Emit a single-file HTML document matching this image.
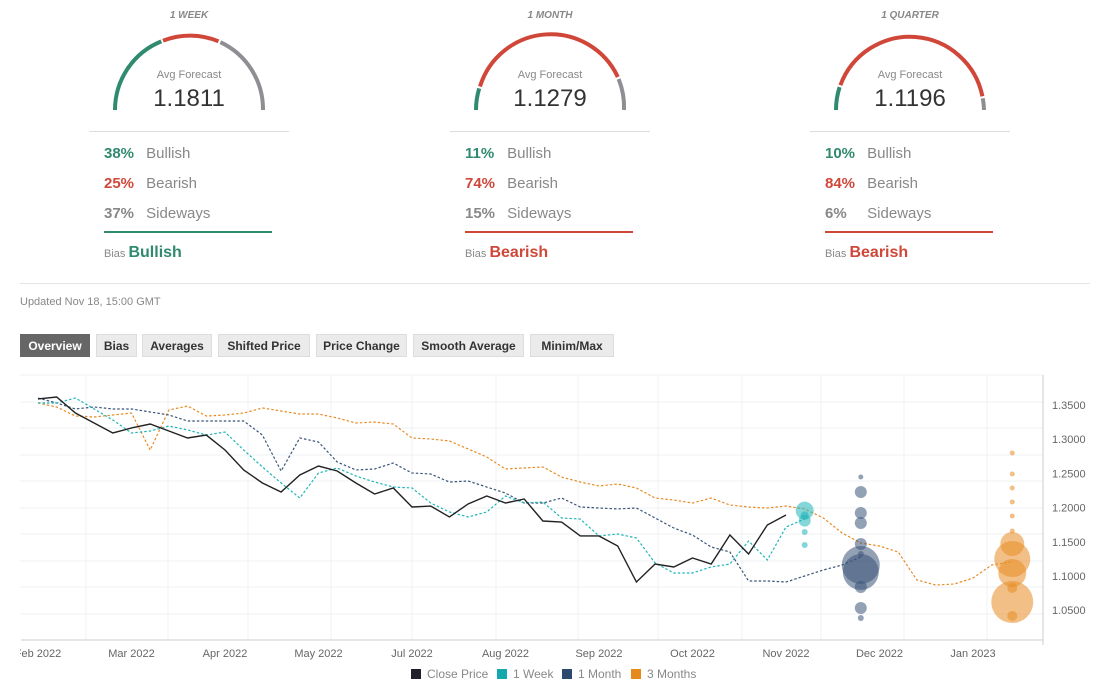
<!DOCTYPE html>
<html><head><meta charset="utf-8">
<style>
body{margin:0;width:1097px;height:700px;background:#fff;font-family:"Liberation Sans",sans-serif;position:relative;overflow:hidden}
.abs{position:absolute}
.col{position:absolute;top:0;width:220px}
.title{position:absolute;top:10px;width:100%;text-align:center;font-size:10px;font-style:italic;font-weight:bold;color:#888}
.avg{position:absolute;top:69px;width:100%;text-align:center;font-size:11px;color:#888}
.val{position:absolute;top:85px;width:100%;text-align:center;font-size:24px;color:#333}
.hr{position:absolute;top:131px;left:10px;width:200px;height:1px;background:#ddd}
.row{position:absolute;left:25px;font-size:15px;color:#888}
.row b{display:inline-block;width:38px}
.ul{position:absolute;top:231px;left:25px;width:168px;height:2px}
.bias{position:absolute;top:244px;left:25px;font-size:11px;color:#888}
.bias span{font-size:16px;font-weight:bold}
.btn{position:absolute;top:334px;height:23px;line-height:23px;background:#ebebeb;border:1px solid #ddd;box-sizing:border-box;font-size:12px;font-weight:bold;color:#333;text-align:center}
</style></head><body>
<div class="col" style="left:79px">
<div class="title">1 WEEK</div>
<svg class="abs" style="left:0;top:0" width="220" height="120">
<path d="M36,110 A74,74 0 0 1 82.3,41.4" stroke="#2f8a6f" stroke-width="4" fill="none"/>
<path d="M84,40.7 A74,74 0 0 1 139.5,41.3" stroke="#d0473a" stroke-width="4" fill="none"/>
<path d="M141.4,42.2 A74,74 0 0 1 184,110" stroke="#8e8e93" stroke-width="4" fill="none"/>
</svg>
<div class="avg">Avg Forecast</div><div class="val">1.1811</div>
<div class="hr"></div>
<div class="row" style="top:145px"><b style="color:#2f8a6f">38%</b> Bullish</div>
<div class="row" style="top:175px"><b style="color:#d0473a">25%</b> Bearish</div>
<div class="row" style="top:205px"><b style="color:#888">37%</b> Sideways</div>
<div class="ul" style="background:#2f8a6f"></div>
<div class="bias">Bias <span style="color:#2f8a6f">Bullish</span></div>
</div>
<div class="col" style="left:440px">
<div class="title">1 MONTH</div>
<svg class="abs" style="left:0;top:0" width="220" height="120">
<path d="M36,110 A74,74 0 0 1 39.2,88.4" stroke="#2f8a6f" stroke-width="4" fill="none"/>
<path d="M40,86.5 A74,74 0 0 1 177.8,77" stroke="#d0473a" stroke-width="4" fill="none"/>
<path d="M178.6,79 A74,74 0 0 1 184,110" stroke="#8e8e93" stroke-width="4" fill="none"/>
</svg>
<div class="avg">Avg Forecast</div><div class="val">1.1279</div>
<div class="hr"></div>
<div class="row" style="top:145px"><b style="color:#2f8a6f">11%</b> Bullish</div>
<div class="row" style="top:175px"><b style="color:#d0473a">74%</b> Bearish</div>
<div class="row" style="top:205px"><b style="color:#888">15%</b> Sideways</div>
<div class="ul" style="background:#d0473a"></div>
<div class="bias">Bias <span style="color:#d0473a">Bearish</span></div>
</div>
<div class="col" style="left:800px">
<div class="title">1 QUARTER</div>
<svg class="abs" style="left:0;top:0" width="220" height="120">
<path d="M36,110 A74,74 0 0 1 39.6,87.1" stroke="#2f8a6f" stroke-width="4" fill="none"/>
<path d="M40.4,85.2 A74,74 0 0 1 182.4,96.3" stroke="#d0473a" stroke-width="4" fill="none"/>
<path d="M182.8,98.3 A74,74 0 0 1 184,110" stroke="#8e8e93" stroke-width="4" fill="none"/>
</svg>
<div class="avg">Avg Forecast</div><div class="val">1.1196</div>
<div class="hr"></div>
<div class="row" style="top:145px"><b style="color:#2f8a6f">10%</b> Bullish</div>
<div class="row" style="top:175px"><b style="color:#d0473a">84%</b> Bearish</div>
<div class="row" style="top:205px"><b style="color:#888">6%</b> Sideways</div>
<div class="ul" style="background:#d0473a"></div>
<div class="bias">Bias <span style="color:#d0473a">Bearish</span></div>
</div>
<div class="abs" style="left:20px;top:283px;width:1070px;height:1px;background:#e5e5e5"></div>
<div class="abs" style="left:20px;top:296px;font-size:11px;color:#888">Updated Nov 18, 15:00 GMT</div>
<div class="btn" style="left:20px;width:70px;background:#666;color:#fff;border-color:#666">Overview</div>
<div class="btn" style="left:96px;width:41px">Bias</div>
<div class="btn" style="left:142px;width:70px">Averages</div>
<div class="btn" style="left:218px;width:92px">Shifted Price</div>
<div class="btn" style="left:316px;width:91px">Price Change</div>
<div class="btn" style="left:413px;width:111px">Smooth Average</div>
<div class="btn" style="left:530px;width:84px">Minim/Max</div>
<svg id="chart" class="abs" style="left:0;top:0" width="1097" height="700">
<defs><clipPath id="xclip"><rect x="20" y="640" width="1077" height="30"/></clipPath></defs>
</svg>
<script>
const closePrice=[1.3588,1.3617,1.3383,1.3237,1.3091,1.3164,1.3222,1.3120,1.3018,1.3061,1.2842,1.2550,1.2360,1.2228,1.2477,1.2608,1.2535,1.2360,1.2199,1.2287,1.2009,1.2023,1.1863,1.2053,1.2170,1.2067,1.2126,1.1804,1.1789,1.1585,1.1585,1.1439,1.0912,1.1175,1.1132,1.1263,1.1175,1.1599,1.1322,1.1746,1.1892];
const week1=[1.3529,1.3529,1.3602,1.3442,1.3281,1.3091,1.3120,1.3193,1.3135,1.3061,1.3105,1.2842,1.2594,1.2360,1.2140,1.2506,1.2579,1.2462,1.2374,1.2301,1.2287,1.2067,1.1936,1.1863,1.1936,1.2170,1.2067,1.2082,1.1848,1.1833,1.1585,1.1614,1.1556,1.1190,1.1044,1.1044,1.1132,1.1175,1.1512,1.1234,1.1716,1.1833];
const month1=[1.3602,1.3529,1.3442,1.3471,1.3442,1.3442,1.3398,1.3354,1.3266,1.3266,1.3266,1.3266,1.3061,1.2535,1.3018,1.2959,1.2667,1.2550,1.2564,1.2652,1.2506,1.2491,1.2374,1.2389,1.2301,1.2213,1.2067,1.2067,1.2140,1.2009,1.1994,1.1980,1.1994,1.1848,1.1702,1.1599,1.1424,1.1351,1.0927,1.0927,1.0912,1.1000,1.1088,1.1161,1.1278];
const months3=[1.3529,1.3471,1.3339,1.3325,1.3354,1.3383,1.2842,1.3427,1.3485,1.3339,1.3354,1.3383,1.3456,1.3412,1.3368,1.3368,1.3310,1.3237,1.3251,1.3222,1.3018,1.3003,1.2974,1.2857,1.2740,1.2564,1.2579,1.2594,1.2447,1.2374,1.2316,1.2345,1.2287,1.2140,1.2111,1.2067,1.2140,1.2038,1.2009,1.1994,1.2023,1.1980,1.1848,1.1629,1.1482,1.1439,1.1351,1.0942,1.0868,1.0883,1.0971,1.1161,1.1205];
const weekBubbleVals=[1.1955,1.1810,1.1886,1.1643,1.1453];
const weekBubbleSizes=[9,6,4,3,3];
const monthBubbleVals=[1.2448,1.2228,1.1921,1.1775,1.1468,1.1322,1.1161,1.1058,1.0839,1.0532,1.0386];
const monthBubbleSizes=[2.5,6,6,6,6,3,19,18,6,6,3];
const q3BubbleVals=[1.2798,1.2491,1.2287,1.2082,1.1877,1.1658,1.1468,1.1249,1.1044,1.0825,1.0620,1.0415];
const q3BubbleSizes=[2.5,2.5,2.5,2.5,2.5,2.5,12,18,14,5,21,5];
const yTicks=[1.35,1.30,1.25,1.20,1.15,1.10,1.05];
const monthLabels=["Feb 2022","Mar 2022","Apr 2022","May 2022","Jul 2022","Aug 2022","Sep 2022","Oct 2022","Nov 2022","Dec 2022","Jan 2023"];
const monthLabelPos=[0,5,10,15,20,25,30,35,40,45,50];
const weekBubbleIdx=41, monthBubbleIdx=44, q3BubbleIdx=52.1;

const X=i=>38+i*18.7;
const Y=v=>576-(v-1.10)*684;
const NS="http://www.w3.org/2000/svg";
const svg=document.getElementById('chart');
function mk(t,a){const e=document.createElementNS(NS,t);for(const k in a)e.setAttribute(k,a[k]);svg.appendChild(e);return e;}
[375,402,428,455,481,508,534,561,587,614].forEach(y=>{const g=mk('line',{x1:20,x2:1043,y1:y,y2:y,stroke:'#eef0f3'});

});
[86,168,248,331,412,496,578,658,742,821,904,987].forEach(x=>{const g=mk('line',{x1:x,x2:x,y1:375,y2:640,stroke:'#eef0f3'});

});
mk('line',{x1:21,x2:1043,y1:640,y2:640,stroke:'#ccc'});
mk('line',{x1:1043,x2:1043,y1:375,y2:645,stroke:'#ccc'});
yTicks.forEach(v=>{const t=mk('text',{x:1052,y:Y(v)+4,'font-size':11,fill:'#666'});t.textContent=v.toFixed(4);

});
monthLabels.forEach((m,k)=>{const t=mk('text',{x:X(monthLabelPos[k]),y:657,'font-size':11,fill:'#666','text-anchor':'middle','clip-path':'url(#xclip)'});t.textContent=m;

});
function line(arr,color,dash,name){const p=mk('polyline',{points:arr.map((v,i)=>X(i)+','+Y(v)).join(' '),fill:'none',stroke:color,'stroke-width':dash?1.2:1.4,'stroke-dasharray':dash?'2.5,2':'none'});

}
line(months3,'#e88c25',true,'series-3-months');
line(month1,'#3a5478',true,'series-1-month');
line(week1,'#1fb5b8',true,'series-1-week');
line(closePrice,'#222',false,'series-close-price');
function bubbles(vals,sizes,idx,color,name){vals.forEach((v,k)=>{const c=mk('circle',{cx:X(idx),cy:Y(v),r:sizes[k],fill:color,'fill-opacity':0.55});

});}
bubbles(weekBubbleVals,weekBubbleSizes,weekBubbleIdx,'#1fb5b8','week-forecast-bubble');
bubbles(monthBubbleVals,monthBubbleSizes,monthBubbleIdx,'#3a5478','month-forecast-bubble');
bubbles(q3BubbleVals,q3BubbleSizes,q3BubbleIdx,'#e88c25','quarter-forecast-bubble');
const leg=[["Close Price","#1f1f2a",411],["1 Week","#12a8ad",497],["1 Month","#2c4a6e",562],["3 Months","#e68a1e",631]];
leg.forEach(l=>{const r=mk('rect',{x:l[2],y:669,width:10,height:10,fill:l[1]});


const t=mk('text',{x:l[2]+16,y:678,'font-size':12,fill:'#888'});t.textContent=l[0];

});
</script>
</body></html>
